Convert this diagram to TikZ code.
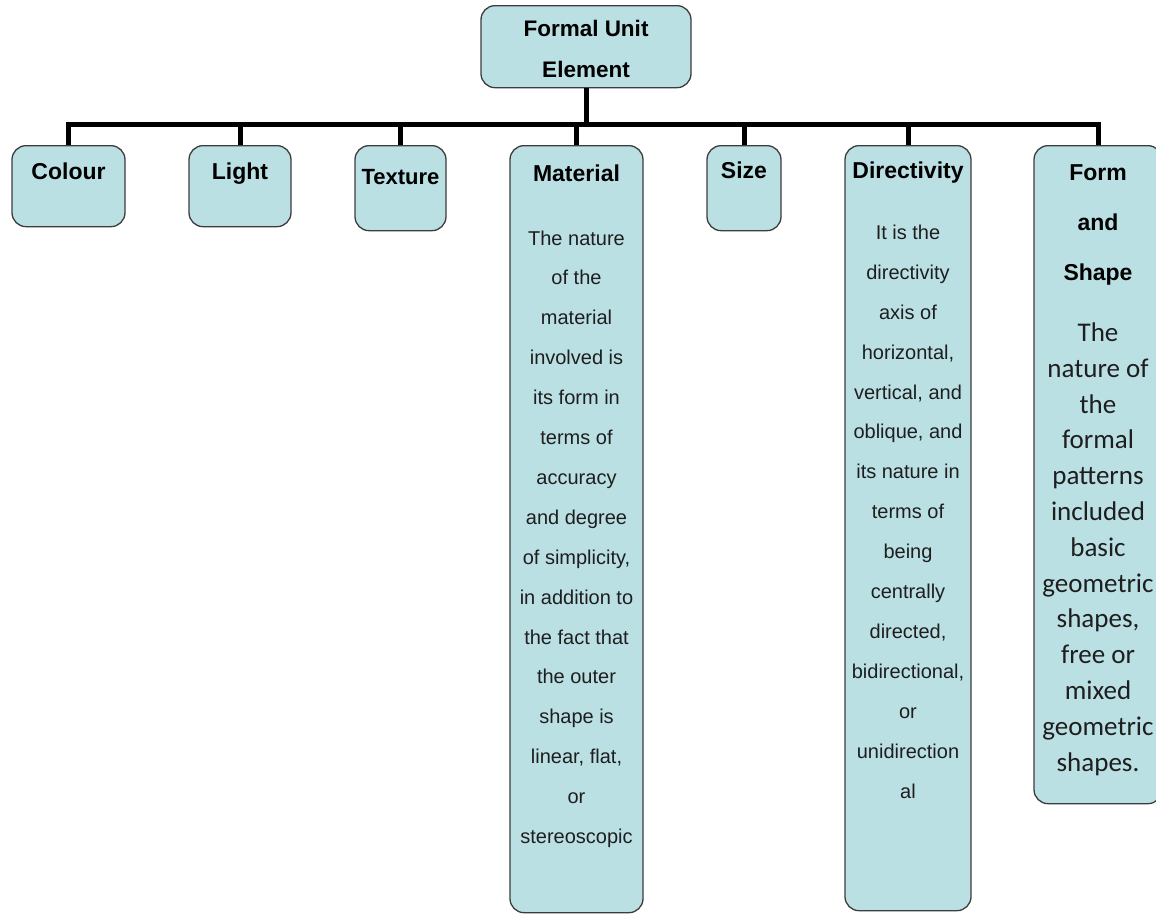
\documentclass[tikz,border=0pt]{standalone}
\usepackage{fontspec}
\setmainfont{Liberation Sans}
\newfontfamily\calibrifont{Carlito}
\usepackage{tikz}
\definecolor{unitfill}{RGB}{187,224,228}
\definecolor{unitline}{RGB}{60,60,60}
\definecolor{bodytext}{RGB}{30,30,30}

\begin{document}
\begin{tikzpicture}[x=1pt,y=-1pt,
    unit/.style={shape=rectangle,rounded corners=14pt,draw=unitline,fill=unitfill,line width=1.3pt,inner sep=0pt,anchor=north},
    head/.style={anchor=base,align=center,inner sep=0pt,font=\fontsize{23}{28}\selectfont\bfseries},
    body/.style={anchor=base,align=center,inner sep=0pt,text=bodytext,font=\fontsize{20}{39.9}\selectfont},
    bus/.style={line width=5pt,black}]
    \useasboundingbox (0,0) rectangle (1156,914);

    % boxes
    \path (586,5) node [unit,minimum width=210,minimum height=82] (top) {}
          (68.5,145) node [unit,minimum width=113,minimum height=81] (colour) {}
          (240,145) node [unit,minimum width=102,minimum height=81] (light) {}
          (400.5,145) node [unit,minimum width=91,minimum height=85] (texture) {}
          (576.5,145) node [unit,minimum width=133,minimum height=767] (material) {}
          (744,145) node [unit,minimum width=74,minimum height=85] (size) {}
          (908,145) node [unit,minimum width=126,minimum height=765] (directivity) {}
          (1098,145) node [unit,minimum width=128,minimum height=658] (form) {};

    % connectors
    \draw [bus] (top.south) -- ++(0,36) coordinate (hub);
    \foreach \unit in {colour,light,texture,material,size,directivity,form}
        \draw [bus] (hub) -| (\unit.north);

    % texts (base = last line)
    \path (586,77) node [head,font=\fontsize{22.5}{41}\selectfont\bfseries] (toptext) {Formal Unit\\Element}
          (68.5,179) node [head] (colourhead) {Colour}
          (240,179) node [head] (lighthead) {Light}
          (400.5,184) node [head,font=\fontsize{22}{28}\selectfont\bfseries] (texturehead) {Texture}
          (576.5,181) node [head] (materialhead) {Material}
          (744,178) node [head] (sizehead) {Size}
          (908,178) node [head] (directivityhead) {Directivity}
          (1098,280) node [head,font=\fontsize{23}{50}\selectfont\bfseries] (formhead) {Form\\and\\Shape};
    \path (576.5,843.5) node [body] (materialbody) {The nature\\of the\\material\\involved is\\its form in\\terms of\\accuracy\\and degree\\of simplicity,\\in addition to\\the fact that\\the outer\\shape is\\linear, flat,\\or\\stereoscopic}
          (908,798) node [body] (directivitybody) {It is the\\directivity\\axis of\\horizontal,\\vertical, and\\oblique, and\\its nature in\\terms of\\being\\centrally\\directed,\\bidirectional,\\or\\unidirection\\al}
          (1098,771) node [body,font=\calibrifont\fontsize{27}{35.8}\selectfont] (formbody) {The\\nature of\\the\\formal\\patterns\\included\\basic\\geometric\\shapes,\\free or\\mixed\\geometric\\shapes.};
\end{tikzpicture}
\end{document}
